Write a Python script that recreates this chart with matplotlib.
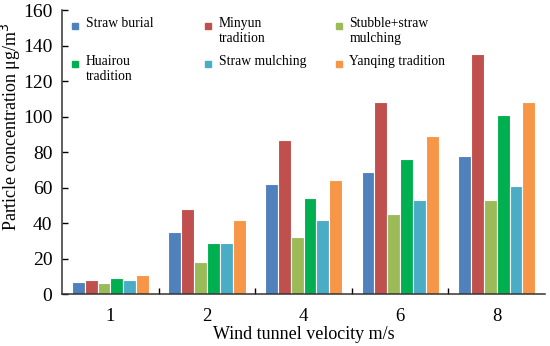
import matplotlib.pyplot as plt
import numpy as np
from matplotlib.patches import Rectangle

plt.rcParams['font.family'] = ['Liberation Serif', 'DejaVu Serif']

velocities = ["1", "2", "4", "6", "8"]
series = ["Straw burial", "Minyun\ntradition", "Stubble+straw\nmulching",
          "Huairou\ntradition", "Straw mulching", "Yanqing tradition"]
straw_burial = [7, 35, 62, 69, 78]
minyun = [8, 48, 87, 108, 135]
stubble_mulching = [6, 18, 32, 45, 53]
huairou = [9, 29, 54, 76, 101]
straw_mulching = [8, 29, 42, 53, 61]
yanqing = [11, 42, 64, 89, 108]
colors = ["#4F81BD", "#C0504D", "#9BBB59", "#00B050", "#4BACC6", "#F79646"]

values = [straw_burial, minyun, stubble_mulching, huairou, straw_mulching, yanqing]

fig = plt.figure(figsize=(5.5, 3.46), dpi=100)
ax = fig.add_axes([0.113, 0.150, 0.878, 0.821])

x = np.arange(len(velocities))
w = 0.133
for i, (vals, lab, c) in enumerate(zip(values, series, colors)):
    ax.bar(x + (i - 2.5) * w, vals, w, color=c, edgecolor="white",
           linewidth=0.8, label=lab)

ax.set_xlim(-0.5, len(velocities) - 0.5)
ax.set_ylim(0, 160)
ax.set_yticks(range(0, 161, 20))
ax.set_xticks(x)
ax.set_xticklabels(velocities)
ax.set_xticks(np.arange(0.5, len(velocities) - 1, 1), minor=True)
ax.tick_params(axis="x", which="major", length=0, labelsize=13.5, pad=10)
ax.tick_params(axis="x", which="minor", direction="in", length=4, width=1)
ax.tick_params(axis="y", direction="in", length=4, width=1, labelsize=14, pad=7)
for s in ["top", "right"]:
    ax.spines[s].set_visible(False)
for s in ["left", "bottom"]:
    ax.spines[s].set_linewidth(1.1)
    ax.spines[s].set_color("#333333")

ax.set_xlabel("Wind tunnel velocity m/s", fontsize=13, labelpad=1)
ax.set_ylabel("Particle concentration μg/m$^3$", fontsize=13)
ax.yaxis.set_label_coords(-0.081, 0.59)

# legend laid out as a 3x2 grid, rows aligned on their first line
col_x = [0.021, 0.296, 0.567]
row_y = [0.944, 0.810]
for k, (lab, c) in enumerate(zip(series, colors)):
    r, col = divmod(k, 3)
    ax.add_patch(Rectangle((col_x[col], row_y[r] - 0.011), 0.0124, 0.022,
                           transform=ax.transAxes, color=c, clip_on=False))
    ax.text(col_x[col] + 0.028, row_y[r] + 0.03, lab, transform=ax.transAxes,
            fontsize=9.8, va="top", ha="left", linespacing=1.15)

fig.savefig("out.png", dpi=100)
